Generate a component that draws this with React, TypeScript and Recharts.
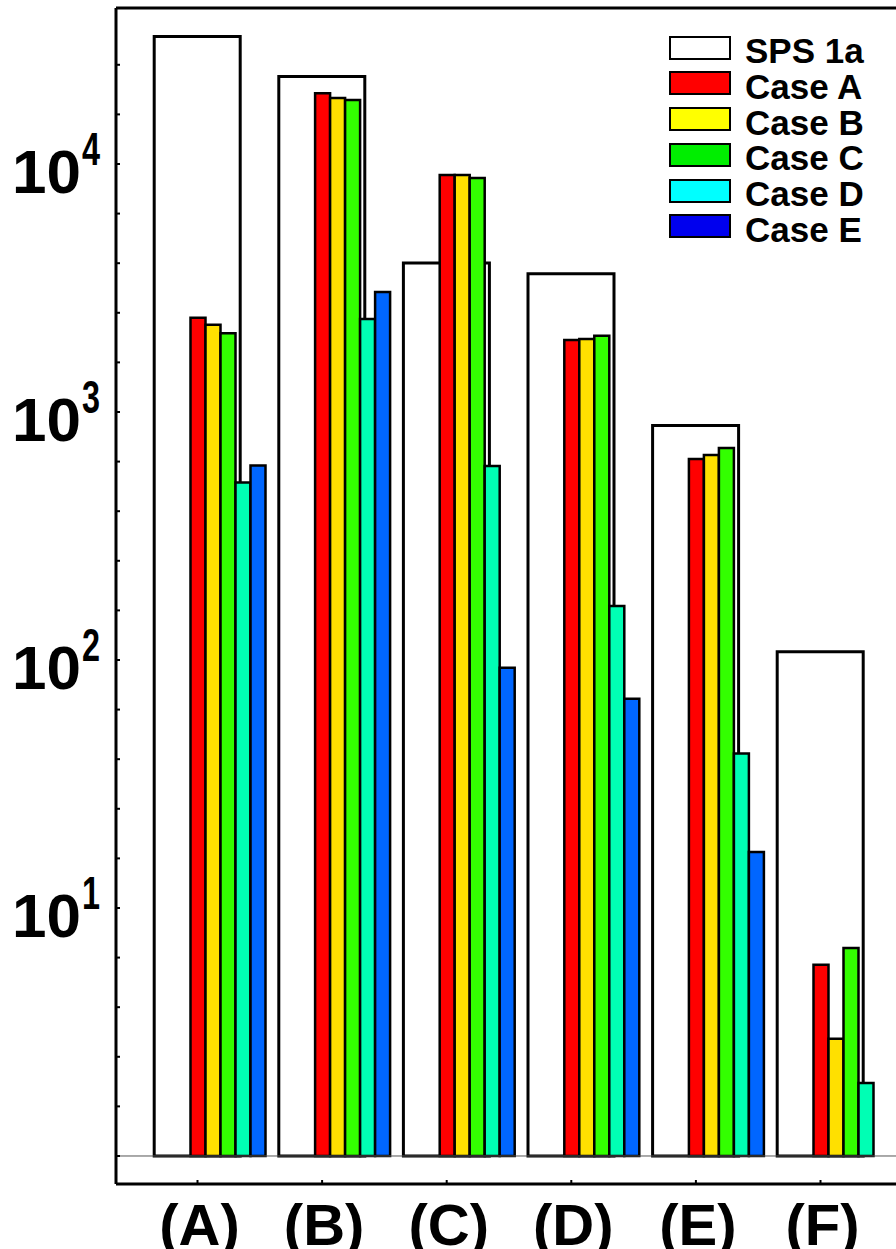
import { Bar, BarChart, Legend, ReferenceLine, XAxis, YAxis } from 'recharts'

const categories = ['(A)', '(B)', '(C)', '(D)', '(E)', '(F)']
const sps1a = [32700, 22550, 3990, 3610, 883, 108]
const caseA = [2400, 19300, 9030, 1950, 646, 5.9]
const caseB = [2250, 18450, 9030, 1970, 671, 2.97]
const caseC = [2075, 18100, 8780, 2030, 716, 6.9]
const caseD = [520, 2370, 606, 165, 42, 1.97]
const caseE: (number | null)[] = [608, 3050, 93, 69.7, 16.8, null]

const seriesKeys = ['sps1a', 'caseA', 'caseB', 'caseC', 'caseD', 'caseE']
const seriesNames = ['SPS 1a', 'Case A', 'Case B', 'Case C', 'Case D', 'Case E']
const barColors = ['#ffffff', '#ff0000', '#ffe000', '#33ff00', '#00ffb4', '#0066ff']
const legendColors = ['#ffffff', '#ff0000', '#ffff00', '#00ee00', '#00ffff', '#0000ee']

// log axis: labels on decades, small ticks every 0.2 decade
const decades = [1, 10, 100, 1000, 10000]
const minorSteps = [1, 1.585, 2.512, 3.981, 6.31]
const majorTicks = [10, 100, 1000, 10000]
const majorExponents = ['1', '2', '3', '4']
const yTicks = decades.flatMap((d) => minorSteps.map((s) => d * s)).filter((v) => v < 30000)
const yDomain = [0.771, 42560]

const data = categories.map((name, i) => ({
  name,
  sps1a: sps1a[i],
  caseA: caseA[i],
  caseB: caseB[i],
  caseC: caseC[i],
  caseD: caseD[i],
  caseE: caseE[i],
}))

const font = '"Liberation Sans", Arial, Helvetica, sans-serif'

function DecadeTick(props: any) {
  const { x, y, payload } = props
  const idx = majorTicks.indexOf(payload.value)
  if (idx < 0) return null
  return (
    <g>
      <text x={x - 19} y={y + 29} textAnchor="end" fontFamily={font} fontWeight="bold" fontSize={62} fill="#000">
        10
      </text>
      <text
        x={x - 18}
        y={y + 1}
        fontFamily={font}
        fontWeight="bold"
        fontSize={47}
        fill="#000"
        textLength={18}
        lengthAdjust="spacingAndGlyphs"
      >
        {majorExponents[idx]}
      </text>
    </g>
  )
}

function CategoryTick(props: any) {
  const { x, y, payload } = props
  return (
    <text x={x + 2} y={y + 65} textAnchor="middle" fontFamily={font} fontWeight="bold" fontSize={58} fill="#000">
      {payload.value}
    </text>
  )
}

function LegendBox() {
  return (
    <div style={{ fontFamily: font, fontWeight: 'bold', fontSize: 35, color: '#000' }}>
      {seriesNames.map((name, i) => (
        <div key={name} style={{ display: 'flex', alignItems: 'flex-start', height: 35.8, lineHeight: '35.8px' }}>
          <span
            style={{
              display: 'inline-block',
              width: 58,
              height: 20,
              marginTop: 2.5,
              border: '2px solid #000',
              background: legendColors[i],
              marginRight: 14,
            }}
          />
          <span style={{ whiteSpace: 'nowrap' }}>{name}</span>
        </div>
      ))}
    </div>
  )
}

export default function App() {
  return (
    <div
      style={{
        position: 'absolute',
        left: 0,
        top: 0,
        width: 896,
        height: 1249,
        overflow: 'hidden',
        background: '#fff',
      }}
    >
      <BarChart
        width={1000}
        height={1249}
        data={data}
        margin={{ top: 8, right: 40, bottom: 0, left: 0 }}
        barGap={0}
        barCategoryGap={0}
      >
        <XAxis
          xAxisId="sps"
          dataKey="name"
          height={65}
          interval={0}
          padding={{ left: 19.2, right: 77.2 }}
          axisLine={{ stroke: '#000', strokeWidth: 3 }}
          tickLine={{ stroke: '#000', strokeWidth: 2 }}
          tickSize={-4}
          tickMargin={0}
          tick={<CategoryTick />}
        />
        <XAxis xAxisId="case" dataKey="name" orientation="top" hide padding={{ left: 49.5, right: 46.9 }} />
        <YAxis
          scale="log"
          domain={yDomain}
          allowDataOverflow
          ticks={yTicks}
          interval={0}
          width={116}
          axisLine={{ stroke: '#000', strokeWidth: 3 }}
          tickLine={{ stroke: '#000', strokeWidth: 2 }}
          tickSize={-4}
          tickMargin={20}
          tick={<DecadeTick />}
        />
        <Legend
          layout="horizontal"
          verticalAlign="middle"
          align="center"
          wrapperStyle={{ left: 669, top: 33, width: 'auto', height: 'auto' }}
          content={() => <LegendBox />}
        />
        {seriesKeys.map((key, i) => (
          <Bar
            key={key}
            xAxisId={i === 0 ? 'sps' : 'case'}
            name={seriesNames[i]}
            dataKey={(d: any) => (d[key] == null ? null : [1, d[key]])}
            barSize={i === 0 ? 86 : 15}
            fill={barColors[i]}
            stroke="#000"
            strokeWidth={i === 0 ? 3 : 2.5}
            isAnimationActive={false}
          />
        ))}
        <ReferenceLine xAxisId="sps" y={1} stroke="#555" strokeWidth={1} />
        <ReferenceLine xAxisId="sps" y={yDomain[1]} stroke="#000" strokeWidth={3} />
      </BarChart>
    </div>
  )
}
